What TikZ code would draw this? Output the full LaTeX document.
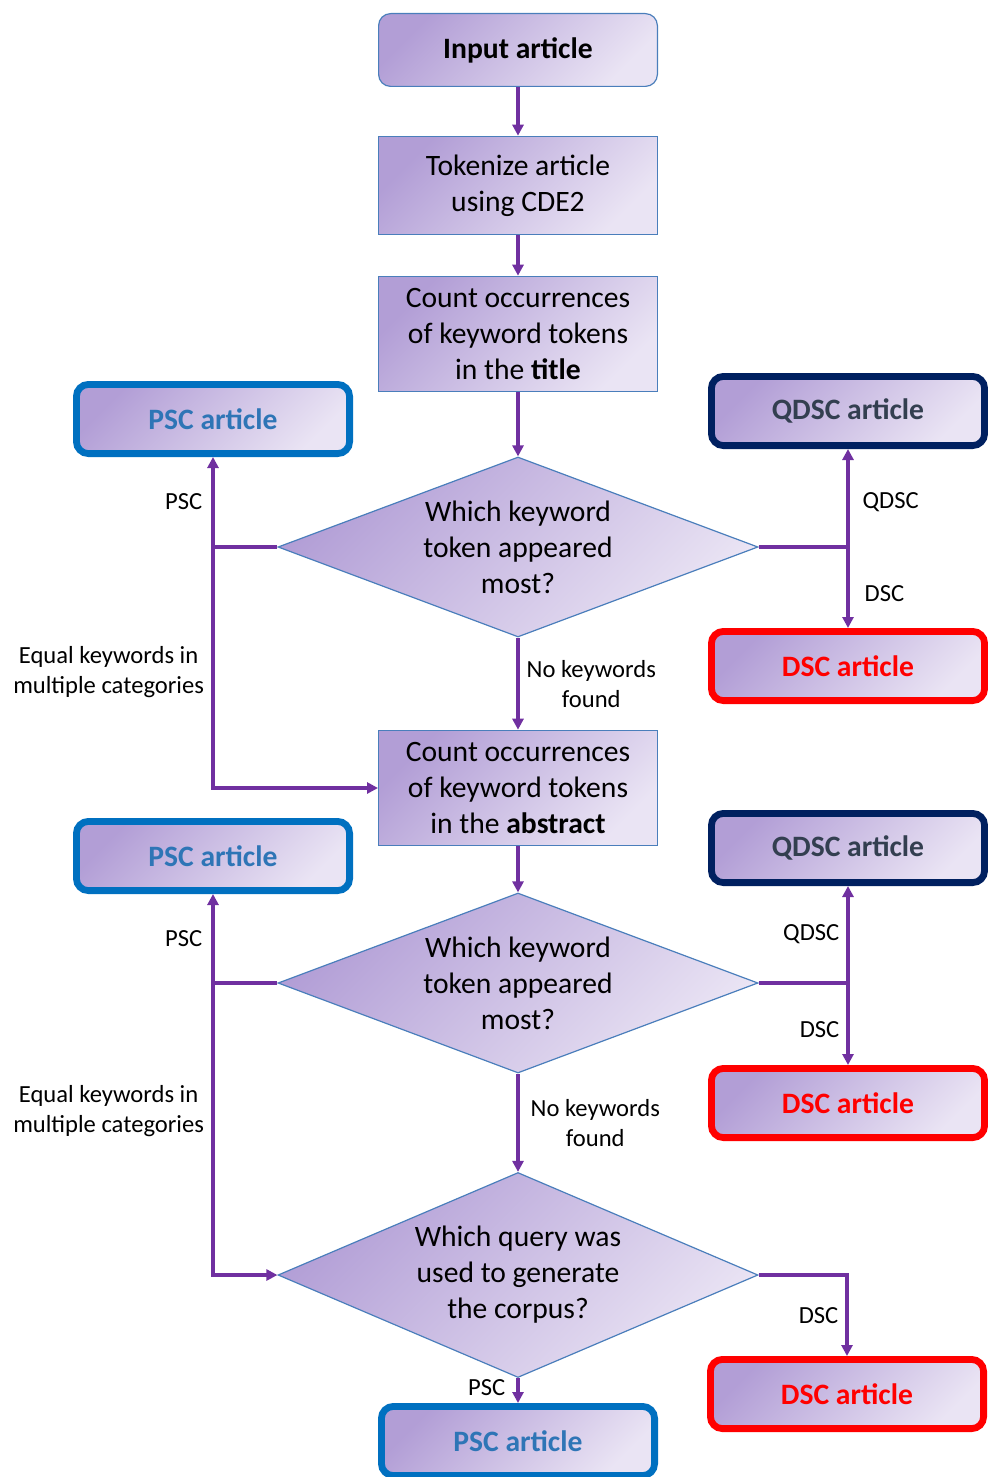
\documentclass[tikz,border=0pt]{standalone}
\usepackage{fontspec}
\setmainfont{Carlito}
\usetikzlibrary{shapes.geometric, arrows.meta}

\definecolor{purdark}{RGB}{178,158,214}
\definecolor{purlight}{RGB}{234,228,244}
\definecolor{edgeblue}{RGB}{74,126,187}
\definecolor{flowpurple}{RGB}{112,48,160}
\definecolor{pscblue}{RGB}{0,112,192}
\definecolor{psctext}{RGB}{46,117,182}
\definecolor{qdscnavy}{RGB}{0,32,96}
\definecolor{qdsctext}{RGB}{51,63,80}
\definecolor{dscred}{RGB}{255,0,0}

\tikzset{
  purfill/.style={top color=purdark, bottom color=purlight, shading angle=45},
  process/.style={purfill, draw=edgeblue, line width=0.6pt, minimum width=139.4pt, align=center, inner sep=2pt, font=\fontsize{14.8}{18}\selectfont},
  decision/.style={diamond, purfill, draw=edgeblue, line width=0.6pt, minimum width=240pt, minimum height=90pt, aspect=2.67, align=center, inner sep=0pt, font=\fontsize{14.8}{18}\selectfont},
  outcome/.style={purfill, rounded corners=6pt, line width=3.4pt, minimum width=136.6pt, minimum height=34.6pt, font=\bfseries\fontsize{14.8}{18}\selectfont},
  flow/.style={draw=flowpurple, line width=2pt, -{Triangle[length=5.5pt, width=5.5pt]}},
  lbl/.style={font=\fontsize{12.3}{15}\selectfont, align=center}
}

\begin{document}
\begin{tikzpicture}[x=0.5pt, y=-0.5pt]
\useasboundingbox (0,0) rectangle (987,1477);

% main column
\node[process, rounded corners=6pt, minimum height=36.4pt, font=\bfseries\fontsize{14.8}{18}\selectfont] (input) at (518,50) {Input article};
\node[process, minimum height=49.2pt] (token) at (518,185.5) {Tokenize article\\using CDE2};
\node[process, minimum height=57.7pt] (cnt1) at (518,334) {Count occurrences\\of keyword tokens\\in the \textbf{title}};
\node[decision] (d1) at (518,547) {Which keyword\\token appeared\\most?};
\node[process, minimum height=57.7pt] (cnt2) at (518,788) {Count occurrences\\of keyword tokens\\in the \textbf{abstract}};
\node[decision] (d2) at (518,983) {Which keyword\\token appeared\\most?};
\node[decision, minimum height=102.5pt, aspect=2.34] (d3) at (518,1275) {Which query was\\used to generate\\the corpus?};

% outcomes
\node[outcome, draw=pscblue, text=psctext] (psc1) at (213,419) {PSC article};
\node[outcome, draw=qdscnavy, text=qdsctext] (qdsc1) at (848,411) {QDSC article};
\node[outcome, draw=dscred, text=dscred] (dsc1) at (848,666) {DSC article};
\node[outcome, draw=pscblue, text=psctext] (psc2) at (213,856) {PSC article};
\node[outcome, draw=qdscnavy, text=qdsctext] (qdsc2) at (848,848) {QDSC article};
\node[outcome, draw=dscred, text=dscred] (dsc2) at (848,1103) {DSC article};
\node[outcome, draw=dscred, text=dscred] (dsc3) at (847,1394) {DSC article};
\node[outcome, draw=pscblue, text=psctext] (psc3) at (518,1441) {PSC article};

\draw[flow] (input) -- (token);
\draw[flow] (token) -- (cnt1);
\draw[flow] (cnt1) -- (d1);
\draw[flow] (d1.west) -| node[lbl, pos=0.75, left, xshift=-1pt] {PSC} (psc1.south);
\draw[flow] (psc1.south |- d1.west) |- node[lbl, pos=0.26, left, inner sep=1.5pt, xshift=-2pt] {Equal keywords in\\multiple categories} (cnt2.west);
\draw[flow] (d1.east) -| node[lbl, pos=0.75, right, xshift=3pt, yshift=-2pt] {QDSC} (qdsc1.south);
\draw[flow] (qdsc1.south |- d1.east) -- node[lbl, right, xshift=4pt, yshift=-3pt] {DSC} (dsc1.north);
\draw[flow] (d1) -- node[lbl, right] {No keywords\\found} (cnt2);

\draw[flow] (cnt2) -- (d2);
\draw[flow] (d2.west) -| node[lbl, pos=0.75, left, xshift=-1pt] {PSC} (psc2.south);
\draw[flow] (psc2.south |- d2.west) |- node[lbl, pos=0.22, left, inner sep=1.5pt, xshift=-2pt] {Equal keywords in\\multiple categories} (d3.west);
\draw[flow] (d2.east) -| node[lbl, pos=0.75, left] {QDSC} (qdsc2.south);
\draw[flow] (qdsc2.south |- d2.east) -- node[lbl, left, yshift=-3pt] {DSC} (dsc2.north);
\draw[flow] (d2) -- node[lbl, right, xshift=2pt] {No keywords\\found} (d3);

\draw[flow] (d3.east) -| node[lbl, pos=0.75, left] {DSC} (dsc3.north);
\draw[flow] (d3) -- node[lbl, pos=0.4, left, xshift=-2pt] {PSC} (psc3);
\end{tikzpicture}
\end{document}
